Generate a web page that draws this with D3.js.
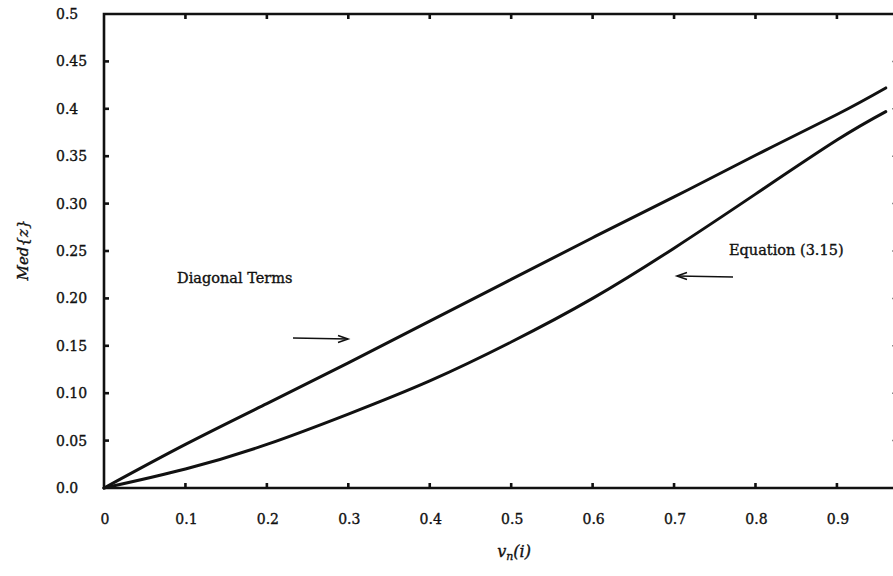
<!DOCTYPE html>
<html>
<head>
<meta charset="utf-8">
<script src="https://cdn.jsdelivr.net/npm/d3@7"></script>
<style>
  body { margin: 0; background: #fff; }
  svg text { font-family: "DejaVu Serif", "Liberation Serif", serif; fill: #111; stroke: #111; stroke-width: 0.35px; }
</style>
</head>
<body>
<svg id="chart" width="893" height="576"></svg>
<script>
// values
var vn = [0, 0.1, 0.2, 0.3, 0.4, 0.5, 0.6, 0.7, 0.8, 0.9, 0.96];
var diagonalTerms = [0, 0.046, 0.089, 0.132, 0.176, 0.220, 0.264, 0.307, 0.351, 0.394, 0.422];
var equation315 = [0, 0.020, 0.046, 0.078, 0.113, 0.154, 0.200, 0.253, 0.310, 0.367, 0.397];

var xTicks = [0, 0.1, 0.2, 0.3, 0.4, 0.5, 0.6, 0.7, 0.8, 0.9];
var xTickLabels = ["0", "0.1", "0.2", "0.3", "0.4", "0.5", "0.6", "0.7", "0.8", "0.9"];
var yTicks = [0, 0.05, 0.10, 0.15, 0.20, 0.25, 0.30, 0.35, 0.4, 0.45, 0.5];
var yTickLabels = ["0.0", "0.05", "0.10", "0.15", "0.20", "0.25", "0.30", "0.35", "0.4", "0.45", "0.5"];

var svg = d3.select("#chart");

var x = d3.scaleLinear().domain([0, 0.975]).range([104, 898]);
var y = d3.scaleLinear().domain([0, 0.5]).range([488, 14]);

// frame
svg.append("path")
    .attr("d", "M" + x(0.975) + "," + y(0.5) + "H" + x(0) + "V" + y(0) + "H" + x(0.975))
    .attr("fill", "none")
    .attr("stroke", "#111")
    .attr("stroke-width", 2.6);

// ticks drawn inward on all four sides
var tickW = 2.6;
svg.append("g").selectAll("line")
    .data(yTicks.slice(1, -1))
    .join("line")
    .attr("x1", x(0)).attr("x2", x(0) + 5)
    .attr("y1", d => y(d)).attr("y2", d => y(d))
    .attr("stroke", "#111").attr("stroke-width", tickW);

svg.append("g").selectAll("line")
    .data(yTicks.slice(1, -1))
    .join("line")
    .attr("x1", x(0.975)).attr("x2", x(0.975) - 6)
    .attr("y1", d => y(d)).attr("y2", d => y(d))
    .attr("stroke", "#888").attr("stroke-width", 1.5);

svg.append("g").selectAll("line")
    .data(xTicks.slice(1))
    .join("line")
    .attr("x1", d => x(d)).attr("x2", d => x(d))
    .attr("y1", y(0)).attr("y2", y(0) - 5)
    .attr("stroke", "#111").attr("stroke-width", tickW);

svg.append("g").selectAll("line")
    .data(xTicks.slice(1))
    .join("line")
    .attr("x1", d => x(d)).attr("x2", d => x(d))
    .attr("y1", y(0.5)).attr("y2", y(0.5) + 5)
    .attr("stroke", "#111").attr("stroke-width", tickW);

// tick labels
svg.append("g").selectAll("text")
    .data(yTicks)
    .join("text")
    .attr("x", 56)
    .attr("y", d => y(d) + 5)
    .attr("font-size", 14)
    .text((d, i) => yTickLabels[i]);

svg.append("g").selectAll("text")
    .data(xTicks)
    .join("text")
    .attr("x", d => x(d) + 1)
    .attr("y", 524)
    .attr("text-anchor", "middle")
    .attr("font-size", 14)
    .text((d, i) => xTickLabels[i]);

// axis titles
svg.append("text")
    .attr("transform", "translate(28,250) rotate(-90)")
    .attr("text-anchor", "middle")
    .attr("font-size", 15)
    .attr("font-style", "italic")
    .text("Med{z}");

var xt = svg.append("text")
    .attr("x", 514)
    .attr("y", 557)
    .attr("text-anchor", "middle")
    .attr("font-size", 16)
    .attr("font-style", "italic");
xt.append("tspan").text("v");
xt.append("tspan").attr("dy", 3).attr("font-size", 11).text("n");
xt.append("tspan").attr("dy", -3).text("(i)");

// curves
var line = d3.line()
    .x((d, i) => x(vn[i]))
    .y(d => y(d))
    .curve(d3.curveNatural);

[diagonalTerms, equation315].forEach(function (s) {
    svg.append("path")
        .datum(s)
        .attr("d", line)
        .attr("fill", "none")
        .attr("stroke", "#111")
        .attr("stroke-width", 3)
        .attr("stroke-linecap", "round");
});

// annotations
svg.append("text").attr("x", 177).attr("y", 283).attr("font-size", 14.5).text("Diagonal Terms");
svg.append("text").attr("x", 729).attr("y", 255).attr("font-size", 14.5).text("Equation (3.15)");

function arrow(x1, y1, x2, y2) {
    var dir = x2 > x1 ? 1 : -1;
    svg.append("line")
        .attr("x1", x1).attr("y1", y1).attr("x2", x2).attr("y2", y2)
        .attr("stroke", "#111").attr("stroke-width", 1.6);
    svg.append("path")
        .attr("d", "M" + (x2 - dir * 10) + "," + (y2 - 3.5) + "L" + x2 + "," + y2 + "L" + (x2 - dir * 10) + "," + (y2 + 3.5))
        .attr("fill", "none").attr("stroke", "#111").attr("stroke-width", 1.6);
}
arrow(293, 338, 348, 339);
arrow(733, 277, 677, 276);
</script>
</body>
</html>
